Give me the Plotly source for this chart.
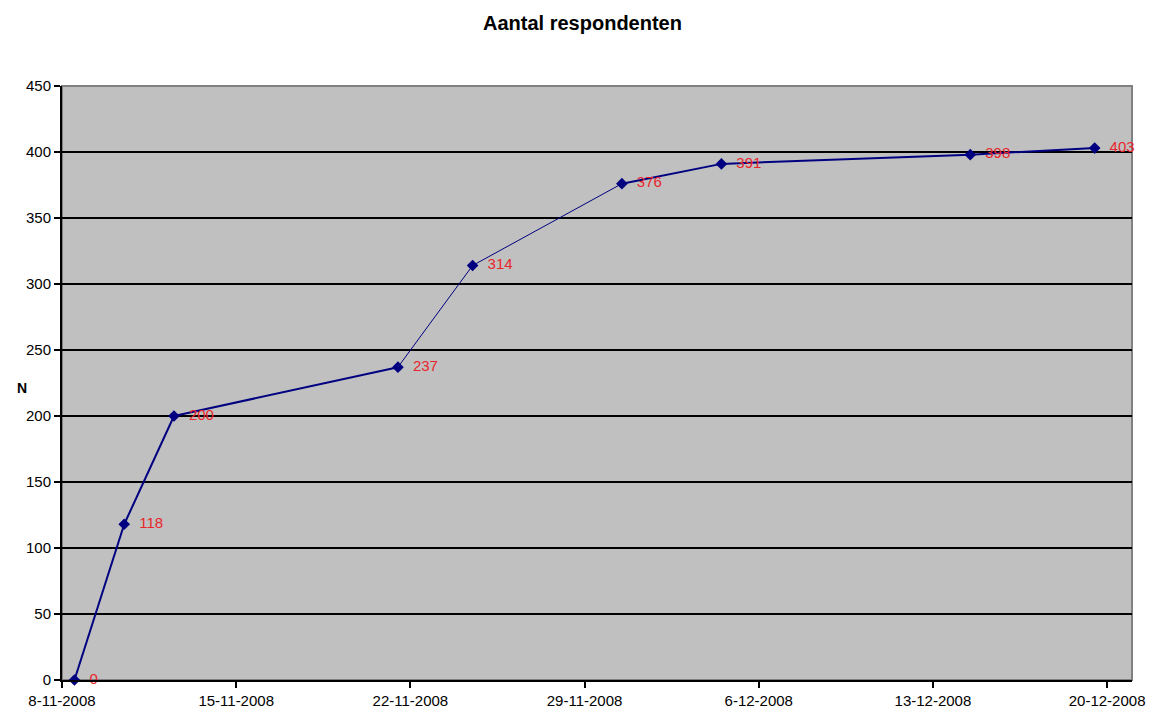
import plotly.graph_objects as go

dates = ["2008-11-08 12:00", "2008-11-10 12:00", "2008-11-12 12:00", "2008-11-21 12:00",
         "2008-11-24 12:00", "2008-11-30 12:00", "2008-12-04 12:00", "2008-12-14 12:00",
         "2008-12-19 12:00"]
counts = [0, 118, 200, 237, 314, 376, 391, 398, 403]
labels = [str(v) for v in counts]
# line width of each segment (segment i joins point i and i+1)
seg_widths = [2, 2, 2, 1, 1, 2, 2, 2]

tick_dates = ["2008-11-08", "2008-11-15", "2008-11-22", "2008-11-29",
              "2008-12-06", "2008-12-13", "2008-12-20"]
tick_text = ["8-11-2008", "15-11-2008", "22-11-2008", "29-11-2008",
             "6-12-2008", "13-12-2008", "20-12-2008"]
y_ticks = [0, 50, 100, 150, 200, 250, 300, 350, 400, 450]

NAVY = "#000080"
fig = go.Figure()
for i, w in enumerate(seg_widths):
    fig.add_trace(go.Scatter(x=dates[i:i + 2], y=counts[i:i + 2], mode="lines",
                             line=dict(color=NAVY, width=w), hoverinfo="skip",
                             showlegend=False))
fig.add_trace(go.Scatter(
    x=dates, y=counts, mode="markers+text",
    marker=dict(symbol="diamond", size=9, color=NAVY),
    text=["  " + t for t in labels], textposition="middle right",
    textfont=dict(family="Liberation Sans, Arial", size=15, color="#E8262B"),
    cliponaxis=False, showlegend=False))

fig.update_layout(
    width=1165, height=713,
    margin=dict(l=62, r=33, t=86, b=33),
    paper_bgcolor="white", plot_bgcolor="#C0C0C0",
    font=dict(family="Liberation Sans, Arial", size=15, color="black"),
    title=dict(text="<b>Aantal respondenten</b>", x=0.5, xanchor="center",
               y=1 - 23 / 713, yanchor="middle",
               font=dict(size=20, family="Liberation Sans, Arial", color="black")),
    xaxis=dict(type="date", range=["2008-11-08", "2008-12-21"],
               tickvals=tick_dates, ticktext=tick_text, showgrid=False,
               showline=True, linecolor="black", linewidth=2,
               ticks="outside", ticklen=6, tickwidth=2, tickcolor="black",
               zeroline=False, automargin=False),
    yaxis=dict(range=[0, 450], tickvals=y_ticks, showgrid=True,
               gridcolor="black", gridwidth=2,
               showline=True, linecolor="black", linewidth=2,
               ticks="outside", ticklen=6, tickwidth=2, tickcolor="black",
               zeroline=False, automargin=False),
    shapes=[dict(type="rect", xref="x domain", yref="y domain", x0=0, x1=1, y0=0, y1=1,
                 line=dict(color="#808080", width=2), layer="below")],
    annotations=[dict(text="<b>N</b>", xref="paper", yref="paper",
                      x=(15 - 62) / 1070, y=(680 - 388) / 594,
                      showarrow=False, font=dict(size=14, color="black"))],
)

fig.write_html("out.html")
